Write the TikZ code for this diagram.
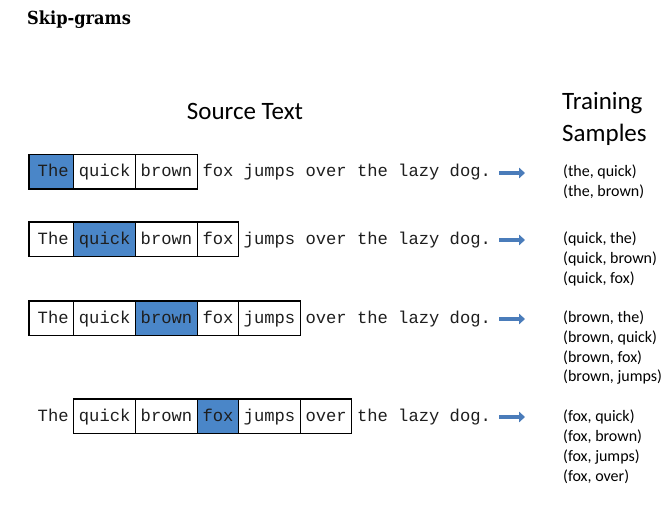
\documentclass[tikz,border=0pt]{standalone}
\usepackage{fontspec}
\usetikzlibrary{arrows.meta}
\setmainfont{Carlito}
\newfontfamily\monofont{Liberation Mono}
\newfontfamily\titlefont[FakeStretch=0.9]{DejaVu Serif}
\definecolor{hlblue}{RGB}{74,134,200}
\definecolor{arrowfill}{RGB}{74,124,186}
\definecolor{ink}{RGB}{30,30,30}

% character pitch of the monospaced sentence and its left start
\newcommand\cw{10.3}
\newcommand\xz{37.5}

\tikzset{
  word/.style={inner sep=0pt, anchor=base west, text=ink,
    font=\monofont\fontsize{17.17}{20}\selectfont},
  boxline/.style={draw=black, line width=1.1pt},
  hl/.style={fill=hlblue},
  sample/.style={inner sep=0pt, anchor=base west,
    font=\fontsize{16}{19}\selectfont},
  heading/.style={inner sep=0pt, anchor=base,
    font=\fontsize{25}{30}\selectfont},
  flow/.style={draw=arrowfill, line width=4.2pt,
    -{Triangle[length=6pt,width=10.5pt]}},
}

% one line of the sentence:
% #1 name prefix, #2 baseline, #3 first boxed word, #4 last boxed word, #5 centre word
\newcommand\srcrow[5]{%
  \foreach \w/\s/\l [count=\i] in {The/0/3, quick/4/5, brown/10/5, fox/16/3,
      jumps/20/5, over/26/4, the/31/3, lazy/35/4, dog./40/4}{
    \pgfmathsetmacro\xl{\xz+(\s-0.5)*\cw}
    \ifnum\i=1 \pgfmathsetmacro\xl{\xz-0.83*\cw}\fi
    \pgfmathsetmacro\xr{\xz+(\s+\l+0.5)*\cw}
    \ifnum\i=#5 \fill[hl] (\xl,#2-22.5) rectangle (\xr,#2+12);\fi
    \node[word] (#1-\i) at (\xz+\s*\cw,#2) {\w};
    \ifnum\i<#3\relax\else\ifnum\i>#4\relax\else
      \draw[boxline] (\xl,#2-22.5) rectangle (\xr,#2+12);\fi\fi
  }%
}

% arrow from the end of a sentence towards its sample list
\newcommand\flowarrow[2]{%
  \coordinate (#1s) at (499,#2);
  \coordinate (#1e) at (525,#2);
  \draw[flow] (#1s) -- (#1e);
}

\begin{document}
\begin{tikzpicture}[x=1pt,y=-1pt]
\useasboundingbox (0,0) rectangle (664,510);

\node[inner sep=0pt, anchor=base west,
  font=\titlefont\bfseries\fontsize{18}{22}\selectfont] (title) at (27,25) {Skip-grams};

\node[heading] (src) at (245,120) {Source Text};
\node[heading, anchor=base west] (train1) at (562,110) {Training};
\node[heading, anchor=base west] (train2) at (562,142) {Samples};

% sentences with their context windows
\srcrow{a}{177}{1}{3}{1}
\srcrow{b}{244.5}{1}{4}{2}
\srcrow{c}{323.5}{1}{5}{3}
\srcrow{d}{421.5}{2}{6}{4}

% arrows
\flowarrow{fa}{173}
\flowarrow{fb}{240}
\flowarrow{fc}{319}
\flowarrow{fd}{417}

% training pairs
\node[sample] (a1) at (563,177) {(the, quick)};
\node[sample] (a2) at (563,197) {(the, brown)};

\node[sample] (b1) at (563,244) {(quick, the)};
\node[sample] (b2) at (563,264) {(quick, brown)};
\node[sample] (b3) at (563,284) {(quick, fox)};

\node[sample] (c1) at (563,323) {(brown, the)};
\node[sample] (c2) at (563,343) {(brown, quick)};
\node[sample] (c3) at (563,362.5) {(brown, fox)};
\node[sample] (c4) at (563,382) {(brown, jumps)};

\node[sample] (d1) at (563,421) {(fox, quick)};
\node[sample] (d2) at (563,441) {(fox, brown)};
\node[sample] (d3) at (563,461) {(fox, jumps)};
\node[sample] (d4) at (563,481) {(fox, over)};
\end{tikzpicture}
\end{document}
